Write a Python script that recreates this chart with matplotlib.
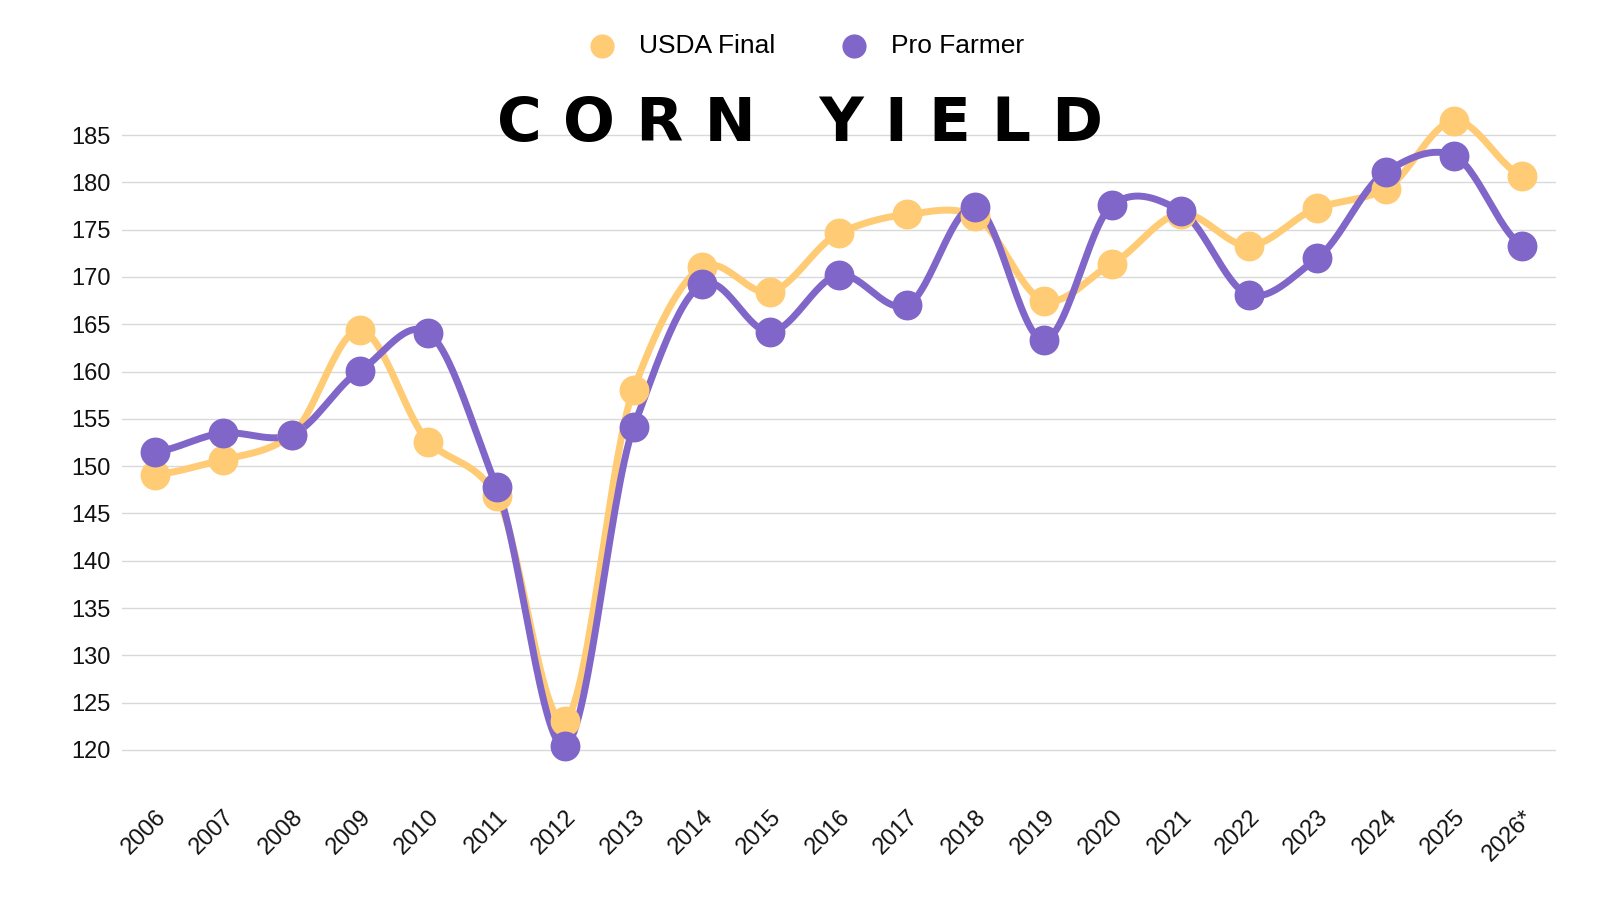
import numpy as np
import matplotlib.pyplot as plt

years = ["2006", "2007", "2008", "2009", "2010", "2011", "2012", "2013", "2014", "2015",
         "2016", "2017", "2018", "2019", "2020", "2021", "2022", "2023", "2024", "2025", "2026*"]
usda_final = [149.1, 150.7, 153.3, 164.4, 152.6, 146.8, 123.1, 158.1, 171.0, 168.4,
              174.6, 176.6, 176.4, 167.5, 171.4, 176.7, 173.3, 177.3, 179.3, 186.5, 180.7]
pro_farmer = [151.5, 153.5, 153.3, 160.1, 164.1, 147.8, 120.4, 154.1, 169.2, 164.2,
              170.2, 167.0, 177.4, 163.3, 177.6, 177.0, 168.1, 172.0, 181.1, 182.8, 173.3]

usda_color = "#FFCB74"
pf_color = "#8066C8"


def smooth(y, n=30, tension=0.4):
    # cardinal spline through the points, like the chart tool's curved lines
    y = np.asarray(y, float)
    x = np.arange(len(y), dtype=float)
    xs, ys = [], []
    for i in range(len(y) - 1):
        p0 = y[max(i - 1, 0)]
        p1, p2 = y[i], y[i + 1]
        p3 = y[min(i + 2, len(y) - 1)]
        m1 = (p2 - p0) * tension if i > 0 else (p2 - p1) * tension
        m2 = (p3 - p1) * tension if i < len(y) - 2 else (p2 - p1) * tension
        t = np.linspace(0, 1, n, endpoint=False)
        h00 = 2 * t**3 - 3 * t**2 + 1
        h10 = t**3 - 2 * t**2 + t
        h01 = -2 * t**3 + 3 * t**2
        h11 = t**3 - t**2
        xs.append(x[i] + t)
        ys.append(h00 * p1 + h10 * m1 + h01 * p2 + h11 * m2)
    xs.append([x[-1]])
    ys.append([y[-1]])
    return np.concatenate(xs), np.concatenate(ys)


fig = plt.figure(figsize=(16, 9), dpi=100)
# grid: 185 at ~135 px, 120 at ~750 px
ppu = (750 - 135) / 65
ybot, ytop = 117.3, 188.4
top_px = 135 - (ytop - 185) * ppu
bot_px = 750 + (120 - ybot) * ppu
ax = fig.add_axes([122 / 1600, 1 - bot_px / 900, (1556 - 122) / 1600, (bot_px - top_px) / 900])

x = np.arange(len(years))
for vals, col, lab in [(usda_final, usda_color, "USDA Final"), (pro_farmer, pf_color, "Pro Farmer")]:
    sx, sy = smooth(vals)
    ax.plot(sx, sy, color=col, lw=5, solid_capstyle="round", zorder=2)
    ax.scatter(x, vals, s=420, color=col, zorder=3, label=lab)

ax.set_xlim(-0.48, len(years) - 0.51)
ax.set_ylim(ybot, ytop)
ax.set_yticks(range(120, 186, 5))
ax.grid(axis="y", color="#D9D9D9", lw=1)
ax.set_axisbelow(True)
for s in ax.spines.values():
    s.set_visible(False)
ax.set_xticks(x)
ax.set_xticklabels(years, rotation=45, ha="right", rotation_mode="anchor")
ax.tick_params(axis="both", length=0, labelsize=17, colors="#111111")
ax.tick_params(axis="x", pad=22)
ax.tick_params(axis="y", pad=8)
for lbl in ax.get_xticklabels() + ax.get_yticklabels():
    lbl.set_family(["Liberation Sans", "DejaVu Sans"])

fig.text(0.5, 1 - 124 / 900, "C O R N   Y I E L D", ha="center", va="center",
         fontsize=44, fontweight="bold", family=["Liberation Sans Narrow", "DejaVu Sans"],
         color="black")
leg = fig.legend(loc="center", bbox_to_anchor=(0.5, 1 - 46 / 900), ncol=2, frameon=False,
                 fontsize=19, handletextpad=0.4, columnspacing=2.0, markerscale=0.8,
                 prop={"family": ["Liberation Sans", "DejaVu Sans"], "size": 19})

fig.savefig("out.png", dpi=100, facecolor="white")
